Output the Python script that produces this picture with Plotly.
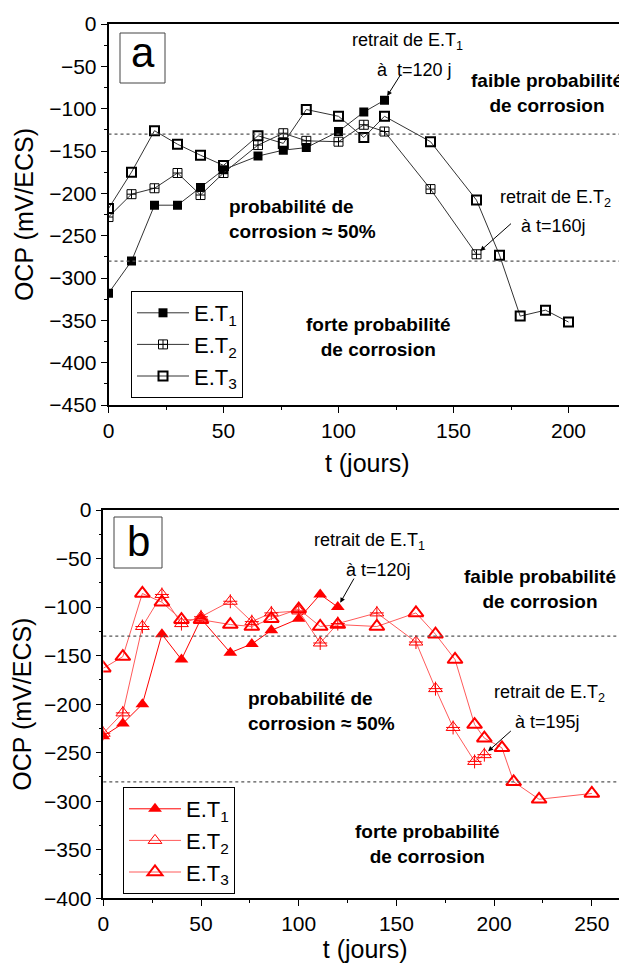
import plotly.graph_objects as go

# ---------------- data (panel a) ----------------
t_a1 = [0, 10, 20, 30, 40, 50, 65, 76, 86, 100, 111, 120]
et1_a = [-318, -280, -214, -214, -193, -172, -156, -149, -146, -127, -104, -90]
t_a2 = [0, 10, 20, 30, 40, 50, 65, 76, 86, 100, 111, 120, 140, 160]
et2_a = [-228, -201, -194, -176, -202, -176, -143, -129, -138, -139, -119, -127, -195, -272]
t_a3 = [0, 10, 20, 30, 40, 50, 65, 76, 86, 100, 111, 120, 140, 160, 170, 179, 190, 200]
et3_a = [-218, -175, -126, -142, -155, -167, -132, -141, -101, -109, -134, -109, -139, -208, -273, -345, -338, -352]

# ---------------- data (panel b) ----------------
t_b1 = [0, 10, 20, 30, 40, 50, 65, 76, 86, 100, 111, 120]
et1_b = [-233, -220, -200, -128, -154, -112, -147, -138, -124, -112, -87, -100]
t_b2 = [0, 10, 20, 30, 40, 50, 65, 76, 86, 100, 111, 120, 140, 160, 170, 179, 190, 195]
et2_b = [-230, -209, -120, -87, -117, -110, -94, -115, -106, -104, -137, -117, -106, -136, -184, -224, -259, -252]
t_b3 = [0, 10, 20, 30, 40, 50, 65, 76, 86, 100, 111, 120, 140, 160, 170, 180, 190, 195, 204, 210, 223, 250]
et3_b = [-163, -151, -86, -95, -113, -113, -118, -120, -112, -102, -120, -118, -120, -106, -128, -154, -221, -235, -245, -280, -298, -292]

thresholds = [-130, -280]
names = ["E.T<sub>1</sub>", "E.T<sub>2</sub>", "E.T<sub>3</sub>"]
xticks_a = [0, 50, 100, 150, 200]
yticks_a = [0, -50, -100, -150, -200, -250, -300, -350, -400, -450]
xticks_b = [0, 50, 100, 150, 200, 250]
yticks_b = [0, -50, -100, -150, -200, -250, -300, -350, -400]

FONT = "Liberation Sans, Arial, sans-serif"
OFF = 8  # page body margin
W, H = 627 - OFF, 963 - OFF


def fx(px):
    return (px - OFF) / W


def fy(py):
    return 1 - (py - OFF) / H


fig = go.Figure()

# panel a traces
fig.add_trace(go.Scatter(x=t_a1, y=et1_a, mode="lines+markers", name=names[0],
                         line=dict(color="#333333", width=1),
                         marker=dict(symbol="square", size=9, color="black"),
                         xaxis="x", yaxis="y", legend="legend"))
fig.add_trace(go.Scatter(x=t_a2, y=et2_a, mode="lines+markers", name=names[1],
                         line=dict(color="#333333", width=1),
                         marker=dict(symbol="square-cross-open", size=9, color="black",
                                     line=dict(width=1, color="black")),
                         xaxis="x", yaxis="y", legend="legend"))
fig.add_trace(go.Scatter(x=t_a3, y=et3_a, mode="lines+markers", name=names[2],
                         line=dict(color="#333333", width=1),
                         marker=dict(symbol="square-open", size=9, color="black",
                                     line=dict(width=2, color="black")),
                         xaxis="x", yaxis="y", legend="legend"))

# panel b traces
RED = "#ff0000"
LRED = "#ff5a5a"
fig.add_trace(go.Scatter(x=t_b1, y=et1_b, mode="lines+markers", name=names[0],
                         line=dict(color=RED, width=1),
                         marker=dict(symbol="triangle-up", size=12, color=RED),
                         xaxis="x2", yaxis="y2", legend="legend2"))
fig.add_trace(go.Scatter(x=t_b2, y=et2_b, mode="lines+markers", name=names[1],
                         line=dict(color=LRED, width=1),
                         marker=dict(symbol="triangle-up-open", size=12, color=RED,
                                     line=dict(width=1, color=RED)),
                         xaxis="x2", yaxis="y2", legend="legend2"))
fig.add_trace(go.Scatter(x=t_b2, y=et2_b, mode="markers", showlegend=False,
                         marker=dict(symbol="cross-thin-open", size=10, color=RED,
                                     line=dict(width=1, color=RED)),
                         xaxis="x2", yaxis="y2", hoverinfo="skip"))
fig.add_trace(go.Scatter(x=t_b3, y=et3_b, mode="lines+markers", name=names[2],
                         line=dict(color=LRED, width=1),
                         marker=dict(symbol="triangle-up-open", size=13, color=RED,
                                     line=dict(width=2, color=RED)),
                         xaxis="x2", yaxis="y2", legend="legend2"))

# threshold lines
shapes = []
for yr in ("y", "y2"):
    xr = "x domain" if yr == "y" else "x2 domain"
    for th in thresholds:
        shapes.append(dict(type="line", xref=xr, yref=yr, x0=0, x1=1, y0=th, y1=th,
                           line=dict(color="#555555", width=1.2, dash="dot")))
# label boxes
shapes.append(dict(type="rect", xref="paper", yref="paper",
                   x0=fx(120), x1=fx(165), y0=fy(83), y1=fy(33),
                   line=dict(color="#444444", width=1)))
shapes.append(dict(type="rect", xref="paper", yref="paper",
                   x0=fx(114), x1=fx(162), y0=fy(568), y1=fy(517),
                   line=dict(color="#444444", width=1)))

txt = dict(family=FONT, size=18, color="black")
bold = dict(family=FONT, size=19, color="black")
ann = [
    dict(text="a", xref="paper", yref="paper", x=fx(142.5), y=fy(53), xanchor="center",
         yanchor="middle", showarrow=False, font=dict(family=FONT, size=42, color="black")),
    dict(text="b", xref="paper", yref="paper", x=fx(138), y=fy(541), xanchor="center",
         yanchor="middle", showarrow=False, font=dict(family=FONT, size=42, color="black")),
    # panel a
    dict(text="retrait de E.T<sub>1</sub>", xref="x", yref="y", x=130, y=-21, showarrow=False, font=txt),
    dict(text="à  t=120 j", xref="x", yref="y", x=133, y=-54, showarrow=False, font=txt),
    dict(text="<b>faible probabilité<br>de corrosion</b>", xref="x", yref="y", x=190.5, y=-81,
         showarrow=False, font=bold),
    dict(text="retrait de E.T<sub>2</sub>", xref="x", yref="y", x=194.5, y=-206, showarrow=False, font=txt),
    dict(text="à t=160j", xref="x", yref="y", x=193.3, y=-239, showarrow=False, font=txt),
    dict(text="<b>probabilité de<br>corrosion ≈ 50%</b>", xref="x", yref="y", x=51.4, y=-230,
         xanchor="left", align="left", showarrow=False, font=bold),
    dict(text="<b>forte probabilité<br>de corrosion</b>", xref="x", yref="y", x=117.5, y=-370,
         showarrow=False, font=bold),
    dict(text="", xref="x", yref="y", x=t_a1[-1], y=et1_a[-1], ax=17, ay=-27,
         showarrow=True, arrowhead=2, arrowsize=1, arrowwidth=1, arrowcolor="black", standoff=5),
    dict(text="", xref="x", yref="y", x=t_a2[-1], y=et2_a[-1], ax=36, ay=-32,
         showarrow=True, arrowhead=2, arrowsize=1, arrowwidth=1, arrowcolor="black", standoff=5),
    # panel b
    dict(text="retrait de E.T<sub>1</sub>", xref="x2", yref="y2", x=136.3, y=-32.6, showarrow=False, font=txt),
    dict(text="à t=120j", xref="x2", yref="y2", x=141, y=-62, showarrow=False, font=txt),
    dict(text="<b>faible probabilité<br>de corrosion</b>", xref="x2", yref="y2", x=223.3, y=-81,
         showarrow=False, font=bold),
    dict(text="retrait de E.T<sub>2</sub>", xref="x2", yref="y2", x=228.4, y=-189.5, showarrow=False, font=txt),
    dict(text="à t=195j", xref="x2", yref="y2", x=227.4, y=-218.6, showarrow=False, font=txt),
    dict(text="<b>probabilité de<br>corrosion ≈ 50%</b>", xref="x2", yref="y2", x=73.2, y=-207,
         xanchor="left", align="left", showarrow=False, font=bold),
    dict(text="<b>forte probabilité<br>de corrosion</b>", xref="x2", yref="y2", x=166, y=-344,
         showarrow=False, font=bold),
    dict(text="", xref="x2", yref="y2", x=t_b1[-1], y=et1_b[-1], ax=17, ay=-30,
         showarrow=True, arrowhead=2, arrowsize=1, arrowwidth=1, arrowcolor="black", standoff=5),
    dict(text="", xref="x2", yref="y2", x=t_b2[-1], y=et2_b[-1], ax=28, ay=-25,
         showarrow=True, arrowhead=2, arrowsize=1, arrowwidth=1, arrowcolor="black", standoff=5),
]


def xax(domain, rng, ticks, anchor, standoff):
    return dict(domain=domain, range=rng, anchor=anchor, tickvals=ticks, automargin=False,
                ticks="outside", ticklen=6, tickwidth=1.3, tickcolor="black",
                minor=dict(dtick=25, tick0=0, ticks="outside", ticklen=3, tickcolor="black", tickwidth=1),
                showline=True, linecolor="black", linewidth=1.5, mirror=True,
                showgrid=False, zeroline=False,
                tickfont=dict(family=FONT, size=21, color="black"),
                title=dict(text="t (jours)", font=dict(family=FONT, size=25, color="black"),
                           standoff=standoff))


def yax(domain, rng, ticks, anchor):
    return dict(domain=domain, range=rng, anchor=anchor, tickvals=ticks, automargin=False,
                ticks="outside", ticklen=6, tickwidth=1.3, tickcolor="black",
                minor=dict(dtick=25, tick0=0, ticks="outside", ticklen=3, tickcolor="black", tickwidth=1),
                showline=True, linecolor="black", linewidth=1.5, mirror=False,
                showgrid=False, zeroline=False,
                tickfont=dict(family=FONT, size=21, color="black"),
                title=dict(text="OCP (mV/ECS)", font=dict(family=FONT, size=25, color="black"),
                           standoff=8))


leg_common = dict(bgcolor="white", bordercolor="black", borderwidth=1,
                  font=dict(family=FONT, size=22, color="black"),
                  xanchor="left", yanchor="top", tracegroupgap=0, itemwidth=52)

fig.update_layout(
    width=W, height=H,
    margin=dict(l=0, r=0, t=0, b=0, autoexpand=False),
    paper_bgcolor="white", plot_bgcolor="white",
    font=dict(family=FONT, color="black"),
    xaxis=xax([fx(108.5), fx(626)], [0, 225], xticks_a, "y", 14),
    yaxis=yax([fy(405), fy(24)], [-450, 0], yticks_a, "x"),
    xaxis2=xax([fx(103.3), 1.0], [0, 268], xticks_b, "y2", 5),
    yaxis2=yax([fy(898.3), fy(510)], [-400, 0], yticks_b, "x2"),
    legend=dict(x=fx(131), y=fy(291), **leg_common),
    legend2=dict(x=fx(123), y=fy(787), **leg_common),
    shapes=shapes,
    annotations=ann,
    showlegend=True,
)

fig.write_html("out.html")
